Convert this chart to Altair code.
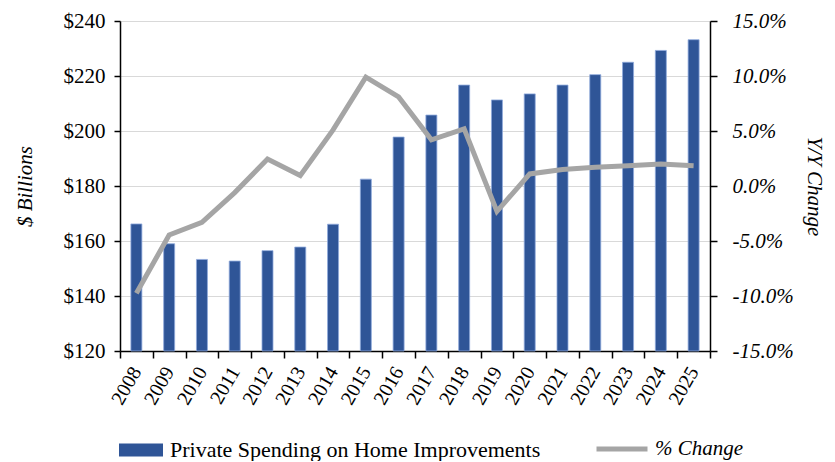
import altair as alt
import pandas as pd

years = [str(y) for y in range(2008, 2026)]
spending = [166.2, 159.0, 153.3, 152.7, 156.5, 157.8, 166.1, 182.5, 197.8, 205.8,
            216.7, 211.3, 213.5, 216.7, 220.5, 225.0, 229.3, 233.2]
pct_change = [-9.75, -4.45, -3.3, -0.6, 2.45, 0.95, 5.1, 9.9, 8.1, 4.2,
              5.2, -2.3, 1.1, 1.5, 1.7, 1.85, 2.0, 1.85]
left_ticks = [120, 140, 160, 180, 200, 220, 240]
right_ticks = [-15, -10, -5, 0, 5, 10, 15]

bar_name = "Private Spending on Home Improvements"
line_name = "% Change"

df = pd.DataFrame({"year": years, "spending": spending, "pct": pct_change})

FONT = "Liberation Serif"
BLUE = "#2F5597"
GRAY = "#A5A5A5"

x_enc = alt.X("year:N", sort=years,
              scale=alt.Scale(paddingInner=0, paddingOuter=0),
              axis=alt.Axis(title=None, tickBand="extent", labelAngle=-60,
                            labelAlign="right", labelBaseline="middle",
                            labelFont=FONT, labelFontSize=20, labelColor="#000",
                            domainColor="#000", domainWidth=1.5, tickColor="#000",
                            tickWidth=1.5, tickSize=7, labelPadding=10, grid=False))

bars = alt.Chart(df).mark_bar(size=11, stroke="#8FAADC", strokeWidth=0.8).encode(
    x=x_enc,
    y=alt.Y("spending:Q",
            scale=alt.Scale(domain=[120, 240], zero=False, nice=False),
            axis=alt.Axis(title="$ Billions", values=left_ticks,
                          labelExpr="'$' + datum.value",
                          labelFont=FONT, labelFontSize=21, labelColor="#000",
                          labelPadding=9, tickSize=6, tickColor="#000", tickWidth=1.5,
                          domainColor="#000", domainWidth=1.5,
                          grid=True, gridColor="#D9D9D9", gridWidth=1.2,
                          titleFont=FONT, titleFontSize=21, titleFontStyle="italic",
                          titleFontWeight="normal", titleColor="#000",
                          titleAngle=-90, titleX=-95, titleY=165,
                          titleAlign="center", titleBaseline="middle")),
    y2=alt.datum(120),
    color=alt.Color("series:N", scale=alt.Scale(domain=[bar_name], range=[BLUE]),
                    legend=alt.Legend(title=None, orient="none", legendX=-1, legendY=407,
                                      symbolType="M-1,-0.2955H1V0.2955H-1Z",
                                      symbolSize=1936, symbolStrokeWidth=0,
                                      labelFont=FONT, labelFontSize=22, labelColor="#000",
                                      labelLimit=800, labelOffset=7, padding=0)),
).transform_calculate(series=f"'{bar_name}'")

line = alt.Chart(df).mark_line(strokeWidth=5, strokeJoin="miter").encode(
    x=alt.X("year:N", sort=years),
    y=alt.Y("pct:Q",
            scale=alt.Scale(domain=[-15, 15], nice=False, zero=False),
            axis=alt.Axis(title="Y/Y Change", orient="right", values=right_ticks,
                          labelExpr="(datum.value < 0 ? '-' : '') + format(abs(datum.value), '.1f') + '%'",
                          labelFont=FONT, labelFontSize=21, labelFontStyle="italic",
                          labelColor="#000", labelPadding=15, tickSize=7,
                          tickColor="#000", tickWidth=1.5,
                          domainColor="#000", domainWidth=1.5, grid=False,
                          titleFont=FONT, titleFontSize=21, titleFontStyle="italic",
                          titleFontWeight="normal", titleColor="#000",
                          titleAngle=90, titleX=103, titleY=165,
                          titleAlign="center", titleBaseline="middle")),
    stroke=alt.Stroke("lseries:N", scale=alt.Scale(domain=[line_name], range=[GRAY]),
                      legend=alt.Legend(title=None, orient="none", legendX=474, legendY=400,
                                        symbolType="stroke", symbolSize=2601,
                                        symbolStrokeWidth=5,
                                        labelFont=FONT, labelFontSize=21,
                                        labelFontStyle="italic", labelColor="#000",
                                        labelLimit=800, labelOffset=5, padding=0)),
).transform_calculate(lseries=f"'{line_name}'")

chart = alt.layer(bars, line).resolve_scale(y="independent").properties(
    width=590, height=330,
    autosize=alt.AutoSizeParams(type="none"),
    padding={"left": 112, "top": 13, "right": 115, "bottom": 110},
).configure_view(stroke=None).configure(background="white")

chart.save("out.html", embed_options={"renderer": "svg", "actions": False})
